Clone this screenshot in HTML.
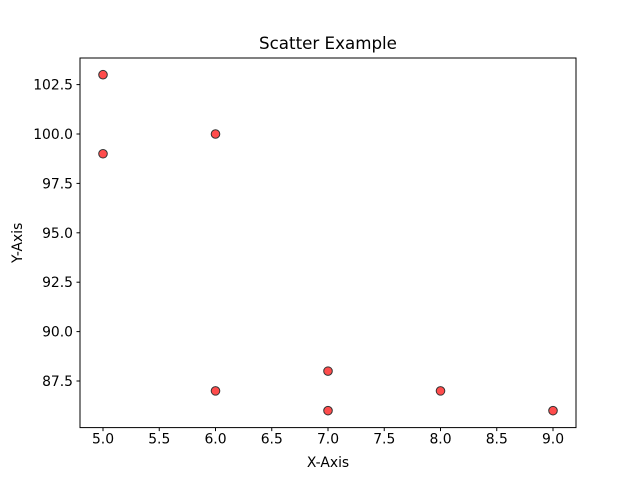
<!DOCTYPE html>
<html><head><meta charset="utf-8"><style>body{margin:0;background:#fff}svg{display:block;font-family:"DejaVu Sans","Liberation Sans",sans-serif}</style></head>
<body>
<svg id="chart" width="640" height="480" viewBox="0 0 640 480">
<rect x="0" y="0" width="640" height="480" fill="#fff"/>
<text x="328" y="49" font-size="16.7" text-anchor="middle">Scatter Example</text>
<g id="ticks"></g>
<g id="points"></g>
<rect x="80" y="58" width="496" height="369.6" fill="none" stroke="#000" stroke-width="1"/>
<text x="328" y="467" font-size="13.9" text-anchor="middle">X-Axis</text>
<text transform="translate(22,242.8) rotate(-90)" font-size="13.9" text-anchor="middle">Y-Axis</text>
</svg>
<script>
const xValues=[5,7,8,7,6,9,5,6];
const yValues=[99,86,87,88,100,86,103,87];
const xTicks=[5.0,5.5,6.0,6.5,7.0,7.5,8.0,8.5,9.0];
const yTicks=[87.5,90.0,92.5,95.0,97.5,100.0,102.5];
const ns="http://www.w3.org/2000/svg";
function xs(v){return 103+(v-5)*112.5;}
function ys(v){return 134+(100-v)*19.76;}
const tg=document.getElementById('ticks');
function mk(t,a){const e=document.createElementNS(ns,t);for(const k in a)e.setAttribute(k,a[k]);return e;}
xTicks.forEach(t=>{
  const l=mk('line',{x1:xs(t),x2:xs(t),y1:427.6,y2:431.1,stroke:'#000'});
  
  
  tg.appendChild(l);
  const tx=mk('text',{x:xs(t),y:443.5,'font-size':13.9,'text-anchor':'middle'});
  
  
  tx.textContent=t.toFixed(1);tg.appendChild(tx);
});
yTicks.forEach(t=>{
  const l=mk('line',{x1:76.5,x2:80,y1:ys(t),y2:ys(t),stroke:'#000'});
  
  
  tg.appendChild(l);
  const tx=mk('text',{x:73,y:ys(t)+5,'font-size':13.9,'text-anchor':'end'});
  
  
  tx.textContent=t.toFixed(1);tg.appendChild(tx);
});
const pg=document.getElementById('points');
xValues.forEach((x,i)=>{
  const c=mk('circle',{cx:xs(x),cy:ys(yValues[i]),r:4.3,fill:'rgba(255,0,0,0.7)',stroke:'#333',"stroke-width":1});
  
  
  pg.appendChild(c);
});
</script>
</body></html>
